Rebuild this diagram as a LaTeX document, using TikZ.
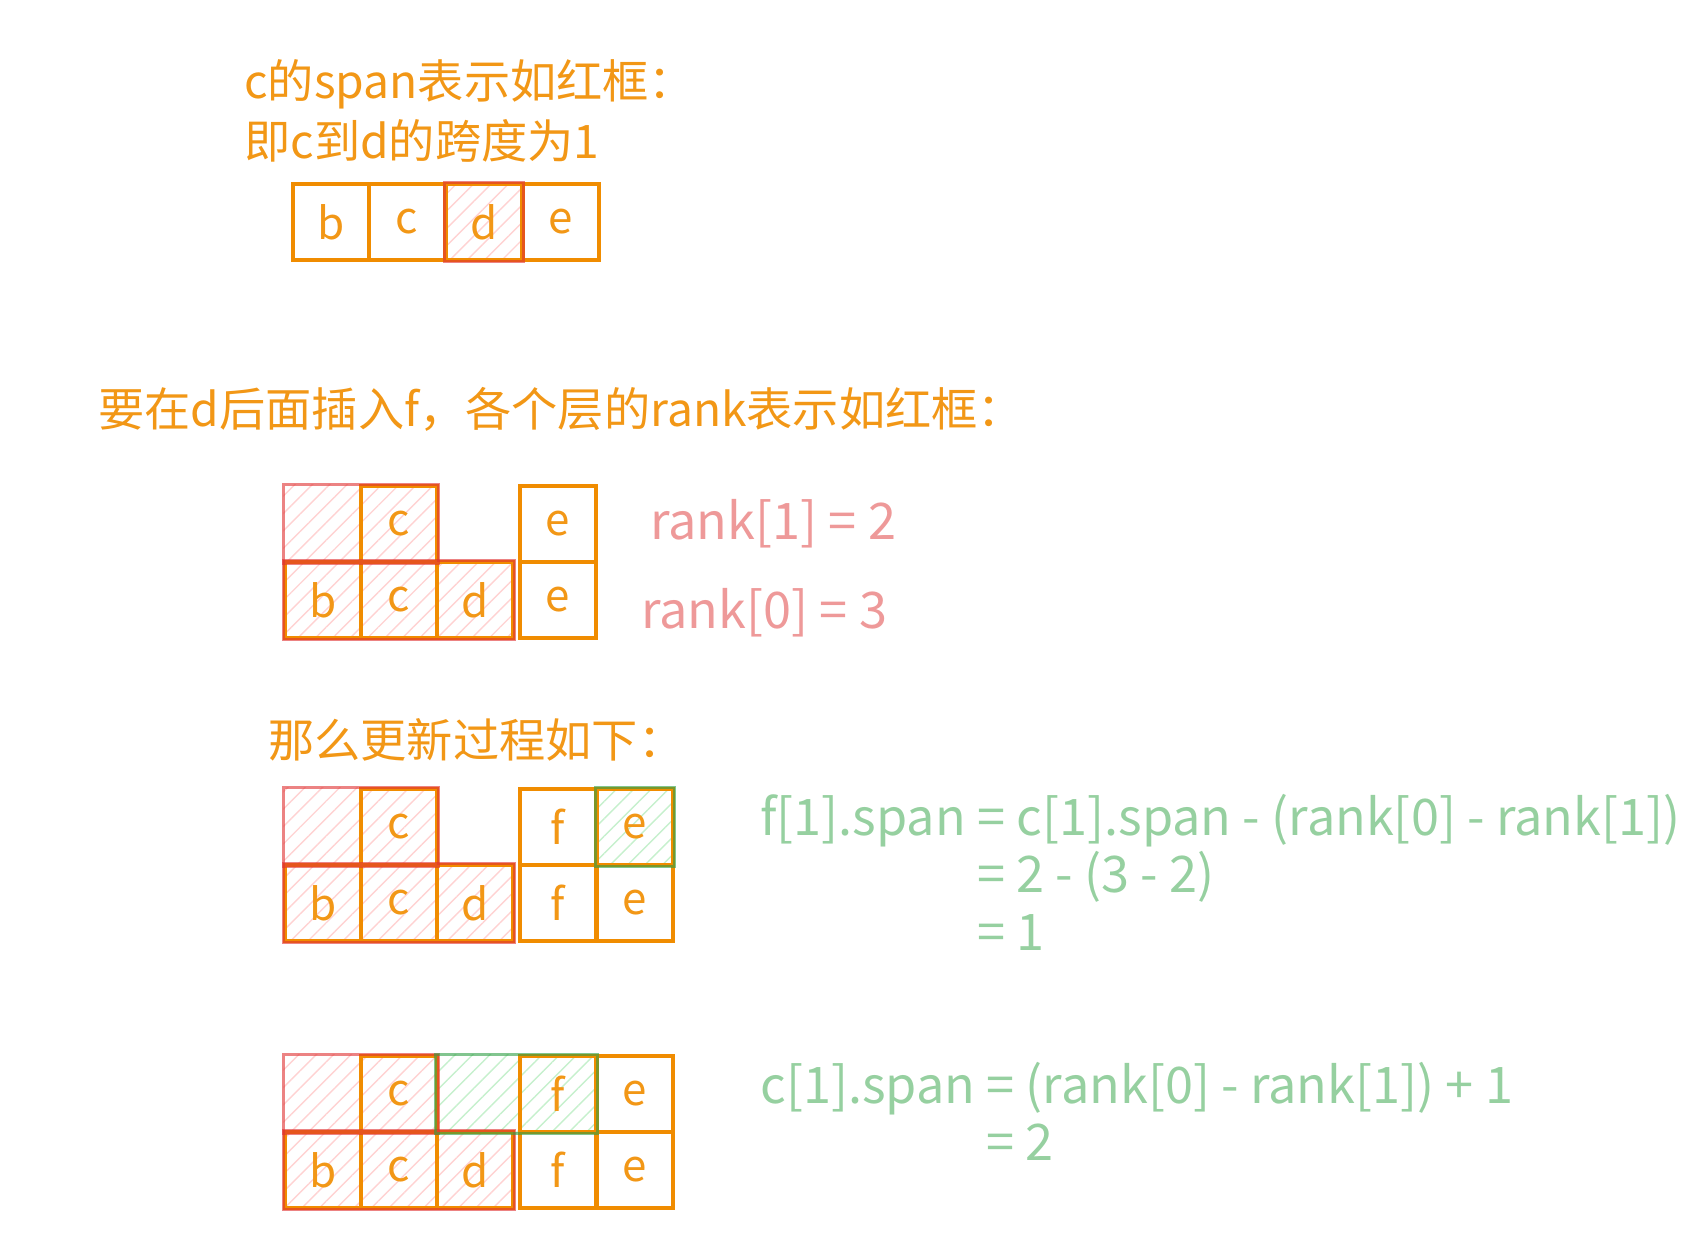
\documentclass[tikz,border=0pt]{standalone}
\usepackage{fontspec}
\setmainfont{Noto Sans CJK SC}
\usepackage{xcolor}
\usetikzlibrary{patterns.meta}
\usetikzlibrary{backgrounds}

\definecolor{orangeline}{HTML}{F08C00}
\definecolor{orangetext}{HTML}{F29716}
\definecolor{redline}{HTML}{E03131}
\definecolor{greenline}{HTML}{2F9E44}
\definecolor{hatchred}{HTML}{FFD2D2}
\definecolor{hatchgreen}{HTML}{C6F0CD}
\definecolor{ranktext}{HTML}{EE9999}
\definecolor{spantext}{HTML}{96D0A0}

\begin{document}
\begin{tikzpicture}[x=0.02cm,y=-0.02cm,
  cell/.style={draw=orangeline,line width=1.9pt,minimum size=1.52cm,inner sep=0pt,text=orangetext,font=\fontsize{25pt}{28pt}\selectfont},
  title/.style={anchor=west,inner sep=0pt,text=orangetext,font=\fontsize{26.3pt}{30pt}\selectfont},
  formula/.style={anchor=north west,inner sep=0pt,align=left,font=\fontsize{28.7pt}{32.6pt}\selectfont},
  ranklabel/.style={anchor=west,inner sep=0pt,text=ranktext,font=\fontsize{28.7pt}{32pt}\selectfont},
  redframe/.style={draw=redline,draw opacity=0.6,line width=1.9pt},
  greenframe/.style={draw=greenline,draw opacity=0.6,line width=1.9pt},
  redhatch/.style={pattern={Lines[angle=45,distance=7pt,line width=0.8pt]},pattern color=hatchred},
  greenhatch/.style={pattern={Lines[angle=45,distance=7pt,line width=0.8pt]},pattern color=hatchgreen}]
\useasboundingbox (0,0) rectangle (1701,1249);

% span of c
\node[title] (t1) at (244,84) {c的span表示如红框：};
\node[title] (t2) at (244,141) {即c到d的跨度为1};
\node[cell] (Ab) at (331,222) {b};
\node[cell] (Ac) at (407,222) {c};
\node[cell] (Ad) at (484,222) {d};
\node[cell] (Ae) at (561,222) {e};
\draw[redframe] (Ad.north west) rectangle (Ad.south east);

% rank of each level
\node[title] (t3) at (98,409) {要在d后面插入f，各个层的rank表示如红框：};
\node[cell,draw=none] (B1x) at (323,524) {};
\node[cell] (B1c) at (399,524) {c};
\node[cell] (B1e) at (558,524) {e};
\node[cell] (B0b) at (323,600) {b};
\node[cell] (B0c) at (399,600) {c};
\node[cell] (B0d) at (475,600) {d};
\node[cell] (B0e) at (558,600) {e};
\draw[redframe] (B1x.north west) rectangle (B1c.south east);
\draw[redframe] (B0b.north west) rectangle (B0d.south east);
\node[ranklabel] (r1) at (650,524) {rank[1] = 2};
\node[ranklabel] (r0) at (641,613) {rank[0] = 3};

% update
\node[title] (t4) at (268,740) {那么更新过程如下：};
\node[cell,draw=none] (C1x) at (323,827) {};
\node[cell] (C1c) at (399,827) {c};
\node[cell] (C1f) at (558,827) {f};
\node[cell] (C1e) at (635,827) {e};
\node[cell] (C0b) at (323,903) {b};
\node[cell] (C0c) at (399,903) {c};
\node[cell] (C0d) at (475,903) {d};
\node[cell] (C0f) at (558,903) {f};
\node[cell] (C0e) at (635,903) {e};
\draw[redframe] (C1x.north west) rectangle (C1c.south east);
\draw[redframe] (C0b.north west) rectangle (C0d.south east);
\draw[greenframe] (C1e.north west) rectangle (C1e.south east);
\node[formula,text=spantext] (f1) at (760,794) {f[1].span = c[1].span - (rank[0] - rank[1])\\\phantom{f[1].span} = 2 - (3 - 2)\\\phantom{f[1].span} = 1};

\node[cell,draw=none] (D1x) at (323,1094) {};
\node[cell] (D1c) at (399,1094) {c};
\node[cell,draw=none] (D1y) at (475,1094) {};
\node[cell] (D1f) at (558,1094) {f};
\node[cell] (D1e) at (635,1094) {e};
\node[cell] (D0b) at (323,1170) {b};
\node[cell] (D0c) at (399,1170) {c};
\node[cell] (D0d) at (475,1170) {d};
\node[cell] (D0f) at (558,1170) {f};
\node[cell] (D0e) at (635,1170) {e};
\draw[redframe] (D1x.north west) rectangle (D1c.south east);
\draw[redframe] (D0b.north west) rectangle (D0d.south east);
\draw[greenframe] (D1y.north west) rectangle (D1f.south east);
\node[formula,text=spantext] (f2) at (760,1062) {c[1].span = (rank[0] - rank[1]) + 1\\\phantom{c[1].span} = 2};

\begin{scope}[on background layer]
\fill[redhatch] (Ad.north west) rectangle (Ad.south east);
\fill[redhatch] (B1x.north west) rectangle (B1c.south east);
\fill[redhatch] (B0b.north west) rectangle (B0d.south east);
\fill[redhatch] (C1x.north west) rectangle (C1c.south east);
\fill[redhatch] (C0b.north west) rectangle (C0d.south east);
\fill[greenhatch] (C1e.north west) rectangle (C1e.south east);
\fill[redhatch] (D1x.north west) rectangle (D1c.south east);
\fill[redhatch] (D0b.north west) rectangle (D0d.south east);
\fill[greenhatch] (D1y.north west) rectangle (D1f.south east);
\end{scope}
\end{tikzpicture}
\end{document}
